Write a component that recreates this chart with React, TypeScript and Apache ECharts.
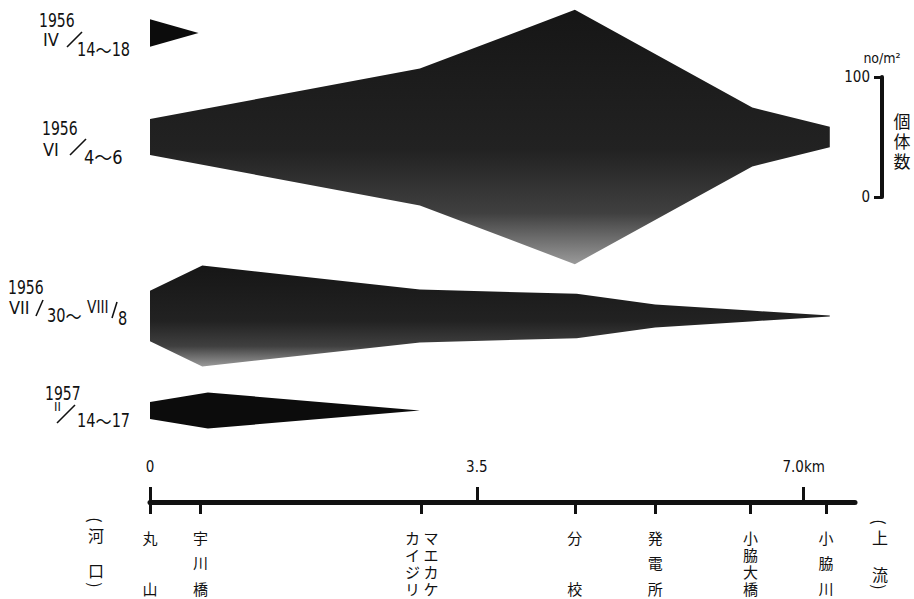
import React, { useEffect, useRef } from "react";
import * as echarts from "echarts";

// ---- data (km from river mouth, abundance no/m² = total width of band) ----
const stationKm = [0, 0.54, 2.91, 4.55, 5.41, 6.43, 7.24];
const stationNames = [
  ["丸", "山"],
  ["宇", "川", "橋"],
  ["カ マ", "イ エ", "ジ カ", "リ ケ"],
  ["分", "校"],
  ["発", "電", "所"],
  ["小", "脇", "大", "橋"],
  ["小", "脇", "川"],
];
const scaleTicks = [0, 3.5, 7];

const aprKm = [0, 0.52];
const aprVal = [23, 0];
const junKm = [0, 2.89, 4.55, 6.45, 7.28];
const junVal = [30, 114, 212, 49, 17];
const julKm = [0, 0.56, 2.89, 4.57, 5.41, 6.43, 7.28];
const julVal = [42, 84, 44, 37, 19, 9, 1];
const febKm = [0, 0.62, 2.89];
const febVal = [14, 30, 0];

const PX_PER_UNIT = 1.2;
const AXIS_Y = 502;
const NUM_FONT = "'Liberation Sans Narrow', 'DejaVu Sans Condensed', 'Liberation Sans', sans-serif";
const JP_FONT = "'Noto Sans CJK JP', sans-serif";
const INK = "#111";

function kite(name: string, km: number[], val: number[], centerPx: number, fill: any) {
  const base = (AXIS_Y - centerPx) / PX_PER_UNIT;
  return {
    name,
    type: "custom",
    xAxisIndex: 0,
    yAxisIndex: 0,
    data: km.map((k, i) => [k, val[i]]),
    renderItem: (params: any, api: any) => {
      if (params.dataIndex !== 0) return null;
      const top = km.map((k, i) => api.coord([k, base + val[i] / 2]));
      const bot = km.map((k, i) => api.coord([k, base - val[i] / 2])).reverse();
      return { type: "polygon", shape: { points: top.concat(bot) }, style: { fill } };
    },
  };
}

const speckle = {
  type: "linear",
  x: 0, y: 0, x2: 0, y2: 1,
  colorStops: [
    { offset: 0, color: "#161616" },
    { offset: 0.55, color: "#222" },
    { offset: 0.8, color: "#404040" },
    { offset: 1, color: "#9a9a9a" },
  ],
};

// vertical station label: characters spread over the same column height
function stationLabel(chars: string[]) {
  const gaps = chars.length === 2 ? 4 : chars.length === 3 ? 1 : 0;
  const lines: string[] = [];
  chars.forEach((c, i) => {
    if (i > 0) for (let g = 0; g < gaps; g++) lines.push("");
    lines.push(`{c|${c}}`);
  });
  return lines.join("\n");
}

function txt(x: number, y: number, text: string, size: number, extra: any = {}, el: any = {}) {
  return {
    type: "text",
    x,
    y,
    ...el,
    style: {
      text,
      fontSize: size,
      fontFamily: NUM_FONT,
      fill: INK,
      align: "left",
      verticalAlign: "middle",
      ...extra,
    },
  };
}
function num(x: number, y: number, text: string, size: number, sx = 0.82) {
  return txt(x, y, text, size, {}, { scaleX: sx });
}
function slash(x1: number, y1: number, x2: number, y2: number) {
  return { type: "line", shape: { x1, y1, x2, y2 }, style: { stroke: INK, lineWidth: 1.6 } };
}
const waveRich = {
  n: { fontSize: 19, fontFamily: NUM_FONT, color: INK },
  t: { fontSize: 19, fontFamily: JP_FONT, color: INK },
};
function wave(x: number, y: number, a: string, b: string, sx = 0.85) {
  return txt(x, y, `{n|${a}}{t|〜}{n|${b}}`, 19, { rich: waveRich }, { scaleX: sx });
}
function jp(x: number, y: number, t: string, el: any = {}) {
  return txt(x, y, t, 16, { fontFamily: JP_FONT, align: "center" }, el);
}

export default function App() {
  const ref = useRef<HTMLDivElement>(null);
  useEffect(() => {
    document.body.style.margin = "0";
    const chart = echarts.init(ref.current!, null, { renderer: "svg" });
    const option: any = {
      animation: false,
      backgroundColor: "#fff",
      grid: [
        { left: 150, right: 59, top: 0, bottom: 599 - AXIS_Y, outerBoundsMode: "none", containLabel: false },
        { left: 882, width: 1, top: 77, height: 120, outerBoundsMode: "none", containLabel: false },
      ],
      xAxis: [
        {
          type: "value",
          gridIndex: 0,
          position: "bottom",
          min: 0,
          max: 7.55,
          axisLine: { show: true, onZero: false, lineStyle: { color: INK, width: 5 } },
          axisTick: { show: true, inside: true, length: 15, customValues: scaleTicks, lineStyle: { color: INK, width: 3 } },
          axisLabel: {
            show: true,
            inside: true,
            margin: 28,
            customValues: scaleTicks,
            formatter: (v: number) => (v === 7 ? "7.0km" : v === 0 ? "0" : "3.5"),
            fontSize: 15,
            fontFamily: NUM_FONT,
            color: INK,
          },
          splitLine: { show: false },
        },
        {
          type: "value",
          gridIndex: 0,
          position: "bottom",
          offset: 0,
          min: 0,
          max: 7.55,
          axisLine: { show: false, onZero: false },
          axisTick: { show: true, length: 12, customValues: stationKm, lineStyle: { color: INK, width: 3 } },
          axisLabel: {
            show: true,
            margin: 26.5,
            customValues: stationKm,
            formatter: (v: number) => {
              const i = stationKm.findIndex((k) => Math.abs(k - v) < 1e-6);
              return i < 0 ? "" : stationLabel(stationNames[i]);
            },
            fontSize: 15,
            lineHeight: 8.5,
            fontFamily: JP_FONT,
            color: INK,
            rich: { c: { fontSize: 15, lineHeight: 17, fontFamily: JP_FONT, color: INK } },
          },
          splitLine: { show: false },
        },
        { type: "value", gridIndex: 1, show: false, min: 0, max: 1 },
      ],
      yAxis: [
        { type: "value", gridIndex: 0, show: false, min: 0, max: AXIS_Y / PX_PER_UNIT },
        {
          type: "value",
          gridIndex: 1,
          position: "left",
          min: 0,
          max: 100,
          interval: 100,
          name: "no/m²",
          nameLocation: "end",
          nameGap: 12,
          nameTextStyle: { fontSize: 14, fontFamily: NUM_FONT, color: INK, align: "center" },
          axisLine: { show: true, lineStyle: { color: INK, width: 4 } },
          axisTick: { show: true, length: 8, lineStyle: { color: INK, width: 3 } },
          axisLabel: { show: true, margin: 12, fontSize: 15, fontFamily: NUM_FONT, color: INK },
          splitLine: { show: false },
        },
      ],
      series: [
        kite("1956 IV/14~18", aprKm, aprVal, 33, "#0c0c0c"),
        kite("1956 VI/4~6", junKm, junVal, 137, speckle),
        kite("1956 VII/30~VIII/8", julKm, julVal, 316, speckle),
        kite("1957 II/14~17", febKm, febVal, 410.5, "#0c0c0c"),
      ],
      graphic: [
        // 1956 IV/14~18
        num(39, 20, "1956", 19),
        num(43, 39.5, "IV", 18, 1),
        slash(67, 47, 82, 32),
        wave(77, 50, "14", "18"),
        // 1956 VI/4~6
        num(42, 128.5, "1956", 19),
        num(43, 149, "VI", 18, 1),
        slash(70, 155, 86, 139),
        wave(84, 157, "4", "6", 0.95),
        // 1956 VII/30~VIII/8
        num(8, 287, "1956", 19),
        num(9, 307, "VII", 18, 1),
        slash(36, 316, 43, 300),
        wave(47, 316, "30", ""),
        num(87, 307, "VIII", 18, 0.85),
        slash(112, 318, 117, 302),
        num(118, 319, "8", 19, 0.85),
        // 1957 II/14~17
        num(45, 393, "1957", 19),
        num(54, 406.5, "II", 13, 1),
        slash(57, 423, 75, 405),
        wave(77, 421, "14", "17"),
        // scale bar caption
        txt(902, 140, "個\n体\n数", 17, { fontFamily: JP_FONT, align: "center", lineHeight: 20 }),
        // river mouth / upstream (vertical brackets)
        jp(96, 520, "(", { rotation: -Math.PI / 2 }),
        jp(96, 535, "河"),
        jp(96, 570, "口"),
        jp(96, 585, ")", { rotation: -Math.PI / 2 }),
        jp(880, 522, "(", { rotation: -Math.PI / 2 }),
        jp(880, 537, "上"),
        jp(880, 574, "流"),
        jp(880, 587, ")", { rotation: -Math.PI / 2 }),
      ],
    };
    chart.setOption(option);
    return () => chart.dispose();
  }, []);
  return (
    <div
      ref={ref}
      style={{ position: "fixed", left: 0, top: 0, width: 914, height: 599, background: "#fff" }}
    />
  );
}
